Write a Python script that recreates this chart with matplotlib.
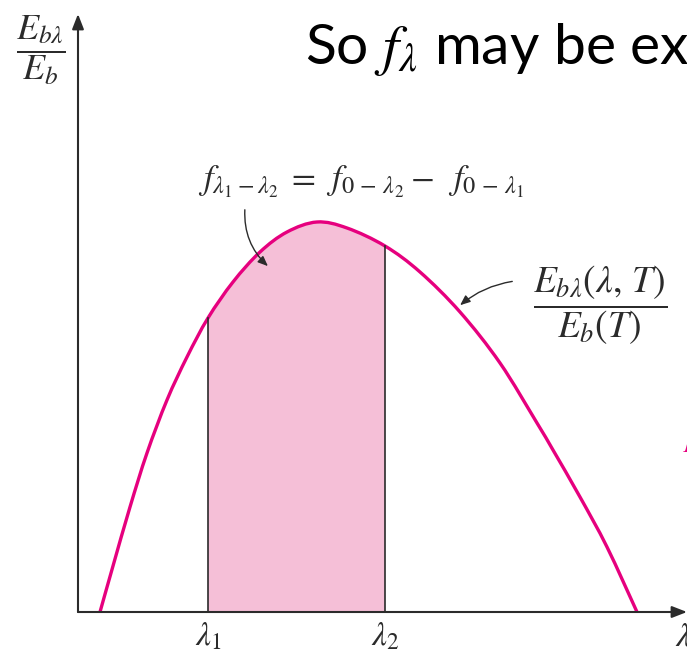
import matplotlib.pyplot as plt
import numpy as np
from matplotlib.path import Path
from matplotlib.patches import PathPatch, Rectangle

plt.rcParams["mathtext.fontset"] = "stix"

# spectral curve, read as (wavelength, normalised emissive power)
lam = np.array([22, 35, 52, 69, 89, 109, 130, 155, 182, 209, 239, 269, 307,
                342, 382, 422, 459, 475, 502, 529, 559])
e_ratio = np.array([0, 46, 105, 159, 212, 255, 294, 330, 360, 380, 390, 384,
                    366, 340, 300, 249, 189, 162, 115, 65, 0])

lam_1 = 130
lam_2 = 307
band_labels = [r"$\lambda_1$", r"$\lambda_2$"]

MAGENTA = "#e6007e"
PINK = "#f5bfd7"
INK = "#2b2b2b"


def smooth_path(x, y, closed_to_axis=False):
    # Catmull-Rom segments written as cubic Bezier path codes
    pts = np.column_stack([x, y]).astype(float)
    verts = [pts[0]]
    codes = [Path.MOVETO]
    for i in range(len(pts) - 1):
        p0 = pts[max(i - 1, 0)]
        p1 = pts[i]
        p2 = pts[i + 1]
        p3 = pts[min(i + 2, len(pts) - 1)]
        verts += [p1 + (p2 - p0) / 6, p2 - (p3 - p1) / 6, p2]
        codes += [Path.CURVE4] * 3
    if closed_to_axis:
        verts += [pts[0], pts[0]]
        codes += [Path.LINETO, Path.CLOSEPOLY]
    return Path(verts, codes)


fig = plt.figure(figsize=(6.87, 6.56), dpi=100)
ax = fig.add_axes([0, 0, 1, 1])
ax.set_xlim(-78, 609)
ax.set_ylim(-44, 612)
ax.axis("off")

# shaded band between lambda_1 and lambda_2, clipped from the area under the curve
area = PathPatch(smooth_path(lam, e_ratio, closed_to_axis=True),
                 facecolor=PINK, edgecolor="none")
ax.add_patch(area)
clip = Rectangle((lam_1, 0), lam_2 - lam_1, 600, transform=ax.transData)
area.set_clip_path(clip)

for lx in (lam_1, lam_2):
    ax.plot([lx, lx], [0, e_ratio[lam == lx][0]], color=INK, lw=1.2)

ax.add_patch(PathPatch(smooth_path(lam, e_ratio), facecolor="none",
                       edgecolor=MAGENTA, lw=2.4, capstyle="butt"))

# axes with arrow heads
arrow = dict(arrowstyle="-|>,head_length=0.9,head_width=0.35", color=INK,
             lw=1.5, shrinkA=0, shrinkB=0)
ax.annotate("", xy=(609, 0), xytext=(0, 0), arrowprops=arrow)
ax.annotate("", xy=(0, 598), xytext=(0, 0), arrowprops=arrow)

# axis labels
ax.text(-37, 562, r"$\dfrac{E_{b\lambda}}{E_b}$", fontsize=26, color=INK,
        ha="center", va="center")
for lx, lbl in zip([lam_1, lam_2], band_labels):
    ax.text(lx, -24, lbl, fontsize=24, color=INK, ha="center", va="center")
ax.text(605, -24, r"$\lambda$", fontsize=24, color=INK, ha="center",
        va="center")

# annotations
ax.text(120, 430,
        r"$f_{\lambda_1-\lambda_2}\;=\;\,f_{0\,-\,\lambda_2}-\;\;f_{0\,-\,\lambda_1}$",
        fontsize=25, color=INK, ha="left", va="center")
ax.annotate("", xy=(192, 344), xytext=(167, 405),
            arrowprops=dict(arrowstyle="-|>,head_length=0.6,head_width=0.25",
                            color=INK, lw=1.0, connectionstyle="arc3,rad=0.25"))
ax.text(522, 307, r"$\dfrac{E_{b\lambda}(\lambda,\,T)}{E_b(T)}$", fontsize=27,
        color=INK, ha="center", va="center")
ax.annotate("", xy=(380, 305), xytext=(437, 331),
            arrowprops=dict(arrowstyle="-|>,head_length=0.6,head_width=0.25",
                            color=INK, lw=1.0, connectionstyle="arc3,rad=0.15"))

# heading text running off the right edge
ax.text(227, 562, r"So $f_\lambda$ may be expressed as", fontsize=41,
        family="Lato", color="black", ha="left", va="center")
ax.text(604, 170, r"$E$", fontsize=24, color=MAGENTA, ha="left",
        va="center")

fig.savefig("out.png", dpi=100)
